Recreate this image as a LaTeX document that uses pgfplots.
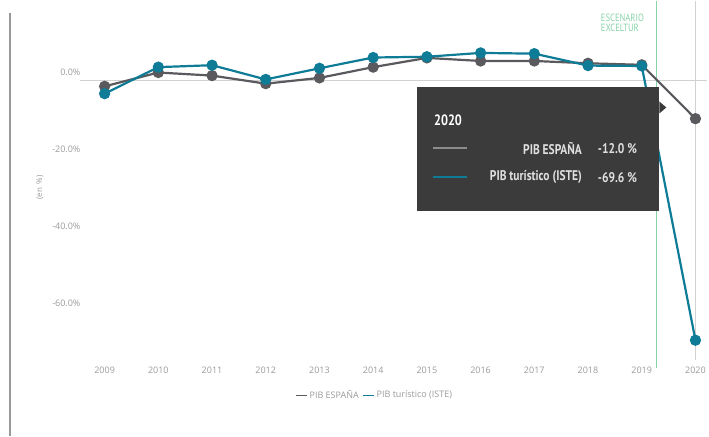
\documentclass[border=0pt]{standalone}
\usepackage{fontspec}
\setmainfont{Open Sans}
\newfontfamily\tipfont[FakeStretch=0.82]{PT Sans}
\usepackage{pgfplots}
\pgfplotsset{compat=1.18}
\definecolor{espana}{HTML}{5A5A5E}
\definecolor{iste}{HTML}{0E7C96}
\definecolor{mint}{HTML}{86D3A8}
\definecolor{ticktxt}{HTML}{9A9A9A}
\definecolor{tipbg}{HTML}{3B3B3B}

\begin{document}
\begin{tikzpicture}[x=1pt,y=1pt]
\path (0,0) rectangle (709,436);
% outer border
\draw[color=black!40, line width=1.6pt] (10,0) -- (10,424);
\begin{axis}[
    at={(80pt,76pt)}, anchor=south west,
    scale only axis,
    width=628pt, height=360pt,
    xmin=2008.54, xmax=2020.22,
    ymin=-74.8, ymax=18.7,
    axis line style={draw=none},
    clip=false,
    xtick={2009,...,2020},
    xticklabels={2009,2010,2011,2012,2013,2014,2015,2016,2017,2018,2019,2020},
    ytick={-60,-40,-20,0},
    yticklabels={-60.0\%,-40.0\%,-20.0\%,0.0\%},
    tick style={draw=none},
    xticklabel style={font=\fontsize{9}{10}\selectfont, text=ticktxt, yshift=-3pt},
    yticklabel style={font=\fontsize{9}{10}\selectfont, text=ticktxt, xshift=4pt},
    legend style={at={(0.47,-0.097)}, anchor=center, draw=none, fill=none,
        font=\fontsize{9}{10}\selectfont, text=ticktxt, legend columns=2,
        /tikz/every even column/.append style={column sep=2pt}},
    legend image code/.code={\draw[#1, line width=1pt] (0pt,0pt) -- (11pt,0pt);},
]
% crosshair
\draw[color=black!18, line width=1pt] (axis cs:2008.54,-2.1) -- (axis cs:2020.22,-2.1);
\draw[color=black!18, line width=1.2pt] (axis cs:2020,18.7) -- (axis cs:2020,-74.8);
\draw[color=mint, line width=0.9pt] (axis cs:2019.28,18.7) -- (axis cs:2019.28,-76.9);

\addplot[color=espana, line width=2.2pt, mark=*, mark size=4.5pt] coordinates {
(2009,-3.6) (2010,0.0) (2011,-0.8) (2012,-2.9) (2013,-1.4) (2014,1.4)
(2015,3.8) (2016,3.0) (2017,3.0) (2018,2.4) (2019,2.0) (2020,-12.0)
};
\addlegendentry{PIB ESPAÑA}
\addplot[color=iste, line width=2.2pt, mark=*, mark size=4.5pt] coordinates {
(2009,-5.5) (2010,1.4) (2011,1.9) (2012,-1.8) (2013,1.1) (2014,3.9)
(2015,4.1) (2016,5.1) (2017,4.9) (2018,1.8) (2019,1.7) (2020,-69.6)
};
\addlegendentry{PIB turístico (ISTE)}
\end{axis}
% y label
\node[rotate=90, font=\fontsize{8}{9}\selectfont, text=ticktxt] at (40,249) {(en \,\%)};
% scenario label
\node[anchor=west, font=\tipfont\fontsize{10.5}{11}\selectfont, text=mint, align=left] at (598,413.5) {ESCENARIO\\[-1.5pt]EXCELTUR};
% tooltip
\fill[tipbg] (417,225) rectangle (660,349);
\fill[tipbg] (660,335) -- (667,329) -- (660,323) -- cycle;
\node[anchor=west, text=white, font=\tipfont\bfseries\fontsize{15}{16}\selectfont] at (431,316) {2020};
\draw[color=black!45, line width=2pt] (433,288) -- (467,288);
\node[anchor=east, text=white!88!black, font=\tipfont\bfseries\fontsize{14}{15}\selectfont] at (586,288) {PIB ESPAÑA};
\node[anchor=west, text=white!88!black, font=\tipfont\bfseries\fontsize{14}{15}\selectfont] at (595,288) {-12.0 \%};
\draw[color=iste, line width=2pt] (433,259) -- (467,259);
\node[anchor=east, text=white!88!black, font=\tipfont\bfseries\fontsize{14}{15}\selectfont] at (586,259) {PIB turístico (ISTE)};
\node[anchor=west, text=white!88!black, font=\tipfont\bfseries\fontsize{14}{15}\selectfont] at (595,259) {-69.6 \%};
\end{tikzpicture}
\end{document}
